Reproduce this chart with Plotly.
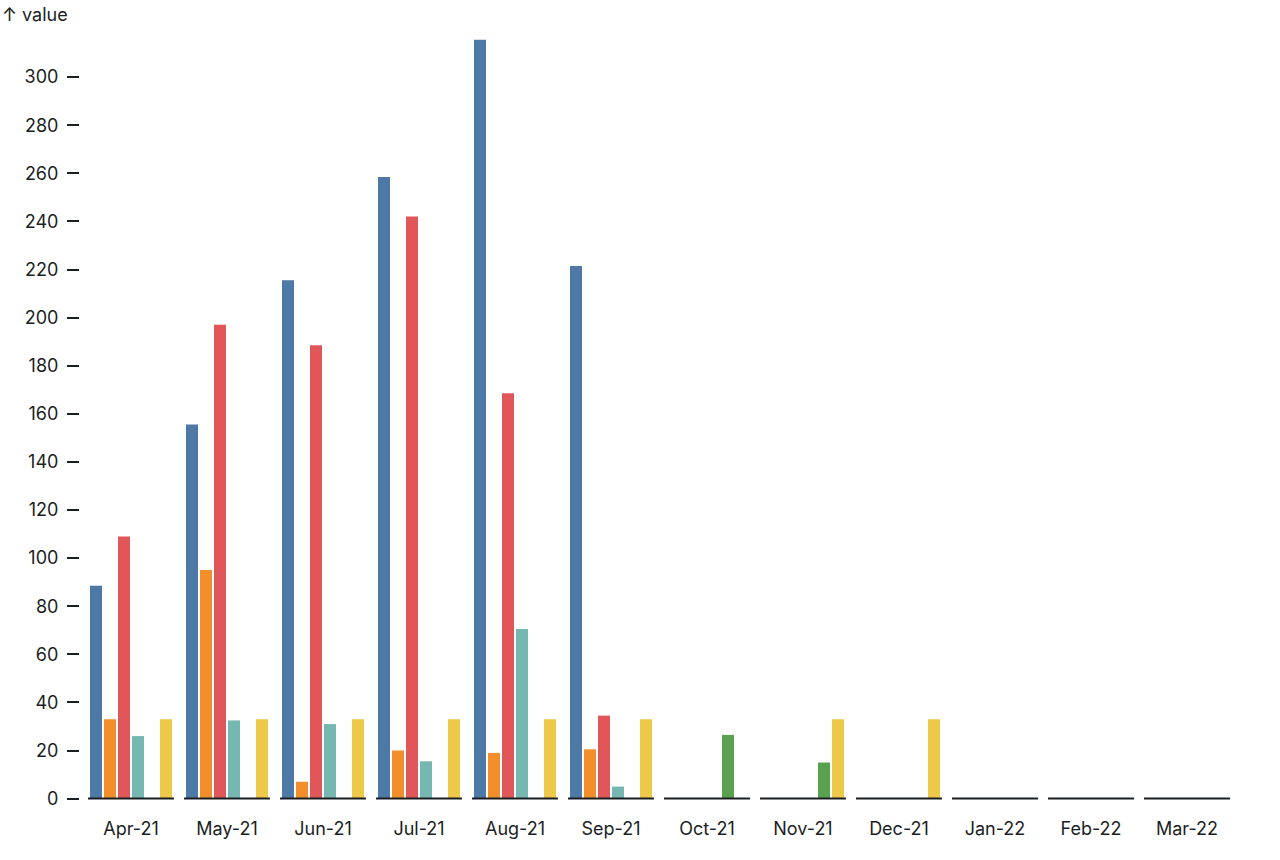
"""Grouped monthly bar chart, one band per month with its own baseline."""

import plotly.graph_objects as go

months = ["Apr-21", "May-21", "Jun-21", "Jul-21", "Aug-21", "Sep-21",
          "Oct-21", "Nov-21", "Dec-21", "Jan-22", "Feb-22", "Mar-22"]

series_names = ["s1", "s2", "s3", "s4", "s5", "s6"]
s1 = [88.5, 155.5, 215.5, 258.5, 315.5, 221.5, None, None, None, None, None, None]
s2 = [33, 95, 7, 20, 19, 20.5, None, None, None, None, None, None]
s3 = [109, 197, 188.5, 242, 168.5, 34.5, None, None, None, None, None, None]
s4 = [26, 32.5, 31, 15.5, 70.5, 5, None, None, None, None, None, None]
s5 = [None, None, None, None, None, None, 26.5, 15, None, None, None, None]
s6 = [33, 33, 33, 33, 33, 33, None, 33, 33, None, None, None]

colors = ["#4e79a7", "#f28e2c", "#e15759", "#76b7b2", "#59a14f", "#edc949"]
y_ticks = list(range(0, 301, 20))

FONT = "Inter, 'Open Sans', sans-serif"
INK = "#1b1e23"

x_pos = list(range(len(months)))

fig = go.Figure()
for name, vals, col in zip(series_names, [s1, s2, s3, s4, s5, s6], colors):
    fig.add_trace(go.Bar(
        x=x_pos,
        y=vals,
        name=name,
        marker_color=col,
        marker_line_width=0,
        showlegend=False,
    ))

# baseline rule under each month band
half = 43 / 96
for i in x_pos:
    fig.add_shape(
        type="line", xref="x", yref="y",
        x0=i - half, x1=i + half, y0=0, y1=0,
        line=dict(color=INK, width=2),
    )

fig.add_annotation(
    text="↑ value", xref="paper", yref="paper",
    x=-80 / 1155, y=1.0, yshift=15,
    xanchor="left", yanchor="middle", showarrow=False,
    font=dict(family=FONT, size=18, color=INK),
)

fig.update_layout(
    width=1280,
    height=860,
    margin=dict(l=80, r=45, t=29, b=59),
    barmode="group",
    bargap=0.125,
    bargroupgap=2 / 14,
    plot_bgcolor="white",
    paper_bgcolor="white",
    font=dict(family=FONT, size=18, color=INK),
    xaxis=dict(
        range=[-0.53125, 11.5],
        tickmode="array",
        tickvals=x_pos,
        ticktext=months,
        showgrid=False,
        zeroline=False,
        showline=False,
        ticks="",
        ticklabelstandoff=15,
    ),
    yaxis=dict(
        range=[-1, 320],
        tickvals=y_ticks,
        showgrid=False,
        zeroline=False,
        showline=False,
        ticks="outside",
        ticklen=12,
        tickwidth=2,
        tickcolor=INK,
        ticklabelstandoff=5,
    ),
)

# drop the default page margin so the figure sits at the window corner
fig.write_html(
    "out.html",
    config={"displayModeBar": False},
    post_script="document.body.style.margin='0';",
)
